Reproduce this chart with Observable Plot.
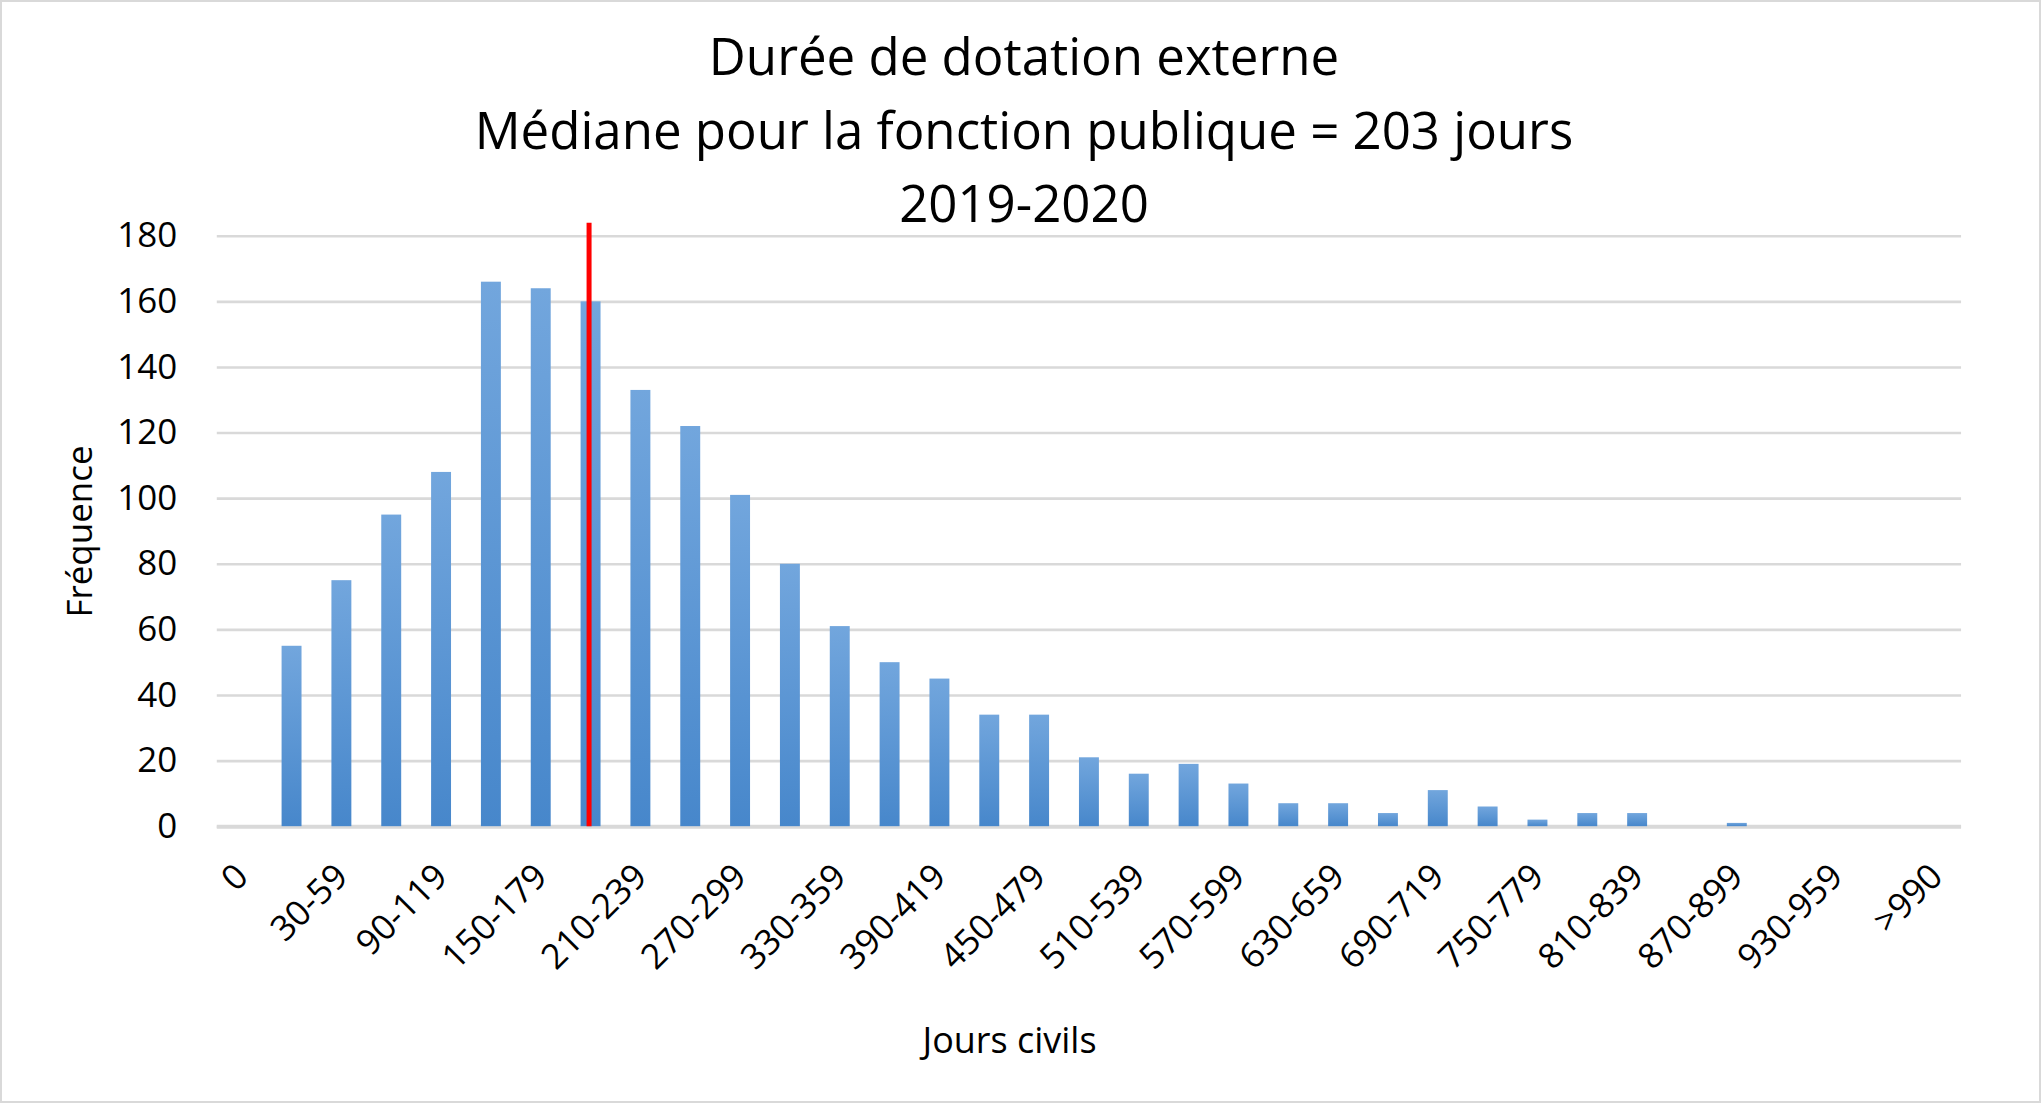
<!DOCTYPE html>
<html>
<head>
<meta charset="utf-8">
<script src="https://cdn.jsdelivr.net/npm/d3@7"></script>
<script src="https://cdn.jsdelivr.net/npm/@observablehq/plot@0.6"></script>
<style>
  html, body { margin: 0; padding: 0; background: #fff; }
  #wrap { position: relative; width: 2041px; height: 1103px; box-sizing: border-box; border: 2px solid #d9d9d9; overflow: hidden; font-family: "Open Sans", sans-serif; }
  #title { position: absolute; left: 0; top: 17px; width: 2044px; text-align: center; font-size: 51px; line-height: 73.5px; color: #000; }
  #chart { position: absolute; left: -2px; top: -2px; }
</style>
</head>
<body>
<div id="wrap">
  <div id="chart"></div>
  <div id="title">
    <div>Durée de dotation externe</div>
    <div>Médiane pour la fonction publique = 203 jours</div>
    <div>2019-2020</div>
  </div>
</div>
<script>
const categories = ["0","1-29","30-59","60-89","90-119","120-149","150-179","180-209","210-239","240-269","270-299","300-329","330-359","360-389","390-419","420-449","450-479","480-509","510-539","540-569","570-599","600-629","630-659","660-689","690-719","720-749","750-779","780-809","810-839","840-869","870-899","900-929","930-959","960-989",">990"];
const frequencies = [0,55,75,95,108,166,164,160,133,122,101,80,61,50,45,34,34,21,16,19,13,7,7,4,11,6,2,4,4,0,1,0,0,0,0];
const tickLabels = ["0","30-59","90-119","150-179","210-239","270-299","330-359","390-419","450-479","510-539","570-599","630-659","690-719","750-779","810-839","870-899","930-959",">990"];
const yTicks = [0,20,40,60,80,100,120,140,160,180];
const medianCategory = "180-209";
const medianLineTop = 184;

const data = categories.map((c, i) => ({cat: c, value: frequencies[i]}));

const chart = Plot.plot({
  width: 2041,
  height: 1103,
  marginLeft: 217,
  marginRight: 78,
  marginTop: 236,
  marginBottom: 276,
  style: {fontFamily: "'Open Sans', sans-serif", fontSize: "35px", color: "#000", background: "transparent"},
  x: {domain: categories, paddingInner: 0.6, paddingOuter: 0.3, label: null},
  y: {domain: [0, 180], label: null},
  marks: [
    Plot.gridY(yTicks, {stroke: "#d9d9d9", strokeOpacity: 1, strokeWidth: 2.6}),
    Plot.ruleY([0], {stroke: "#d9d9d9", strokeWidth: 4}),
    Plot.barY(data, {x: "cat", y: "value", fill: "url(#barGrad)", filter: d => d.value > 0, style: {filter: "url(#barShadow)"}}),
    Plot.ruleX([medianCategory], {y1: 0, y2: medianLineTop, stroke: "#ff0000", strokeWidth: 5, dx: -2}),
    Plot.axisY(yTicks, {tickSize: 0, tickPadding: 40, fontSize: 35, label: null}),
    Plot.axisX(tickLabels, {tickSize: 0, tickPadding: 44, tickRotate: -45, fontSize: 35, label: null}),
    Plot.text(["Fréquence"], {frameAnchor: "left", dx: -137, rotate: -90, fontSize: 35, textAnchor: "middle", lineAnchor: "middle", letterSpacing: "0.8px"}),
    Plot.text(["Jours civils"], {frameAnchor: "bottom", dx: -80, dy: 215, fontSize: 36, textAnchor: "middle", lineAnchor: "middle"})
  ]
});

chart.insertAdjacentHTML("afterbegin", `<defs>
  <linearGradient id="barGrad" x1="0" y1="0" x2="0" y2="1">
    <stop offset="0%" stop-color="#72a6dd"/>
    <stop offset="100%" stop-color="#4787cb"/>
  </linearGradient>
  <filter id="barShadow" x="-50%" y="-10%" width="200%" height="120%">
    <feDropShadow dx="3" dy="2" stdDeviation="3" flood-color="#000" flood-opacity="0.3"/>
  </filter>
</defs>`);

document.getElementById("chart").appendChild(chart);
</script>
</body>
</html>
